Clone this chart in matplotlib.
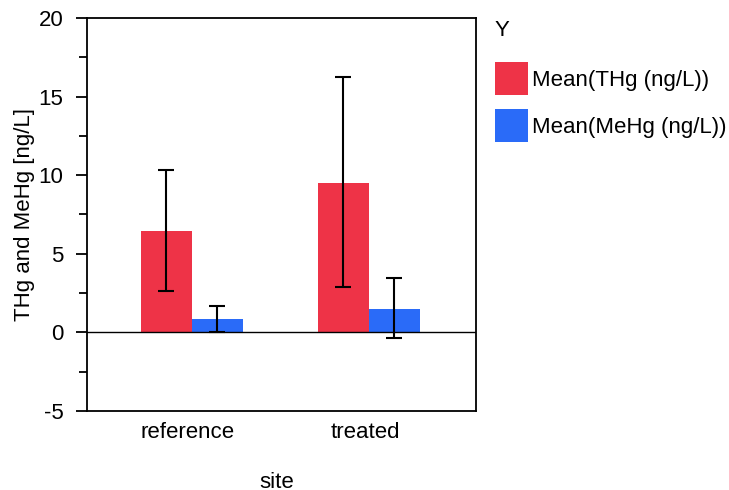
import numpy as np
import matplotlib.pyplot as plt
import matplotlib.transforms as mtransforms
from matplotlib.ticker import MultipleLocator

plt.rcParams['font.family'] = ['Liberation Sans', 'DejaVu Sans']
plt.rcParams['axes.unicode_minus'] = False

sites = ['reference', 'treated']
thg_mean = [6.48, 9.5]
thg_lo = [2.62, 2.88]
thg_hi = [10.35, 16.23]
mehg_mean = [0.83, 1.52]
mehg_lo = [0.0, -0.36]
mehg_hi = [1.67, 3.49]
labels = ['Mean(THg (ng/L))', 'Mean(MeHg (ng/L))']
colors = ['#ee3347', '#2a6bf8']
fs = 16

fig = plt.figure(figsize=(7.29, 4.9), dpi=100)
ax = fig.add_axes([87 / 729, 1 - 411 / 490, (476 - 87) / 729, (411 - 18) / 490])

x = np.arange(len(sites))
w = 0.288
series = [(thg_mean, thg_lo, thg_hi), (mehg_mean, mehg_lo, mehg_hi)]
for k, (m, lo, hi) in enumerate(series):
    m = np.array(m)
    pos = x + (k - 0.5) * w
    ax.bar(pos, m, width=w, color=colors[k], label=labels[k], zorder=2)
    yerr = [m - np.array(lo), np.array(hi) - m]
    ax.errorbar(pos, m, yerr=yerr, fmt='none', ecolor='black',
                elinewidth=1.5, capsize=5.6, capthick=1.5, zorder=3)

ax.axhline(0, color='black', lw=1.0, zorder=2.5)

ax.set_xlim(-0.593, 1.605)
ax.set_ylim(-5, 20)
ax.yaxis.set_major_locator(MultipleLocator(5))
ax.yaxis.set_minor_locator(MultipleLocator(2.5))
ax.set_xticks(x)
ax.set_xticklabels(sites)
ax.tick_params(axis='x', length=0, pad=8, labelsize=fs)
ax.tick_params(axis='y', which='major', length=8, width=1.3, labelsize=fs, pad=9)
ax.tick_params(axis='y', which='minor', length=5.5, width=1.3)
for s in ax.spines.values():
    s.set_linewidth(1.3)

# nudge the category labels a little to the left, as in the original
shift = mtransforms.ScaledTranslation(-4 / 100, 0, fig.dpi_scale_trans)
for lab in ax.get_xticklabels():
    lab.set_transform(lab.get_transform() + shift)

ax.set_ylabel('THg and MeHg [ng/L]', fontsize=fs, labelpad=2.5)
ax.set_xlabel('site', fontsize=fs, labelpad=21)
ax.xaxis.set_label_coords(0.487, -0.155)

fig.text(495 / 729, 1 - 30 / 490, 'Y', fontsize=fs, ha='left', va='center')
leg = fig.legend(loc='upper left', bbox_to_anchor=(495 / 729, 1 - 62 / 490),
                 frameon=False, fontsize=fs, handlelength=1.5, handleheight=1.91,
                 handletextpad=0.18, labelspacing=0.63, borderaxespad=0,
                 borderpad=0)

fig.savefig('out.png', dpi=100)
